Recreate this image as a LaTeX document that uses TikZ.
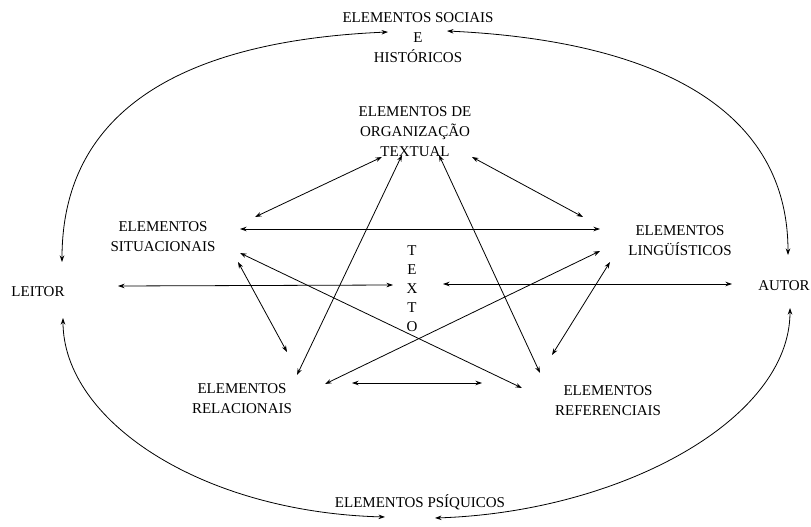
\documentclass[tikz,border=0pt]{standalone}
\usepackage{fontspec}
\setmainfont{Liberation Serif}
\usetikzlibrary{arrows.meta}
\begin{document}
\begin{tikzpicture}[x=1pt,y=-1pt,
  lbl/.style={inner sep=0pt,align=center,font=\fontsize{15}{20}\selectfont},
  link/.style={line width=0.8pt,{Stealth[length=6.5pt,width=4.5pt]}-{Stealth[length=6.5pt,width=4.5pt]}}]
\useasboundingbox (0,0) rectangle (811,527);
% texts
\node[lbl] (soc) at (418,38) {ELEMENTOS SOCIAIS\\E\\HISTÓRICOS};
\node[lbl] (org) at (415,132) {ELEMENTOS DE\\ORGANIZAÇÃO\\TEXTUAL};
\node[lbl] (sit) at (163,237) {ELEMENTOS\\SITUACIONAIS};
\node[lbl] (ling) at (680,241) {ELEMENTOS\\LINGÜÍSTICOS};
\node[lbl] (leitor) at (38,292) {LEITOR};
\node[lbl] (autor) at (784,286) {AUTOR};
\node[lbl,font=\fontsize{15}{19}\selectfont] (texto) at (412,289) {T\\E\\X\\T\\O};
\node[lbl] (rel) at (242,399) {ELEMENTOS\\RELACIONAIS};
\node[lbl] (ref) at (608,401) {ELEMENTOS\\REFERENCIAIS};
\node[lbl] (psi) at (420,502) {ELEMENTOS PSÍQUICOS};
% connector end points
\coordinate (sit-org) at (255,217);   \coordinate (org-sit) at (382,157);
\coordinate (org-ling) at (472,157);  \coordinate (ling-org) at (583,217);
\coordinate (sit-ling) at (240,229);  \coordinate (ling-sit) at (600,229);
\coordinate (leitor-texto) at (118,286); \coordinate (texto-leitor) at (393,285);
\coordinate (texto-autor) at (443,284);  \coordinate (autor-texto) at (732,284);
\coordinate (sit-rel) at (238,262);   \coordinate (rel-sit) at (287,352);
\coordinate (sit-ref) at (240,253);   \coordinate (ref-sit) at (522,388);
\coordinate (rel-org) at (297,375);   \coordinate (org-rel) at (402,155);
\coordinate (ref-org) at (540,373);   \coordinate (org-ref) at (439,155);
\coordinate (rel-ling) at (325,384);  \coordinate (ling-rel) at (600,251);
\coordinate (ref-ling) at (552,355);  \coordinate (ling-ref) at (610,262);
\coordinate (rel-ref) at (352,383);   \coordinate (ref-rel) at (482,383);
\coordinate (leitor-soc) at (62,262); \coordinate (soc-leitor) at (388,32);
\coordinate (soc-autor) at (447,31);  \coordinate (autor-soc) at (788,255);
\coordinate (leitor-psi) at (63,318); \coordinate (psi-leitor) at (385,517);
\coordinate (psi-autor) at (435,518); \coordinate (autor-psi) at (790,308);
% straight connectors
\draw[link] (sit-org) -- (org-sit);
\draw[link] (org-ling) -- (ling-org);
\draw[link] (sit-ling) -- (ling-sit);
\draw[link] (leitor-texto) -- (texto-leitor);
\draw[link] (texto-autor) -- (autor-texto);
\draw[link] (sit-rel) -- (rel-sit);
\draw[link] (sit-ref) -- (ref-sit);
\draw[link] (rel-org) -- (org-rel);
\draw[link] (ref-org) -- (org-ref);
\draw[link] (rel-ling) -- (ling-rel);
\draw[link] (ref-ling) -- (ling-ref);
\draw[link] (rel-ref) -- (ref-rel);
% outer arcs
\draw[link] (leitor-soc) .. controls (62,100) and (200,40) .. (soc-leitor);
\draw[link] (soc-autor) .. controls (640,40) and (788,100) .. (autor-soc);
\draw[link] (leitor-psi) .. controls (63,420) and (200,512) .. (psi-leitor);
\draw[link] (psi-autor) .. controls (620,512) and (790,420) .. (autor-psi);
\end{tikzpicture}
\end{document}
